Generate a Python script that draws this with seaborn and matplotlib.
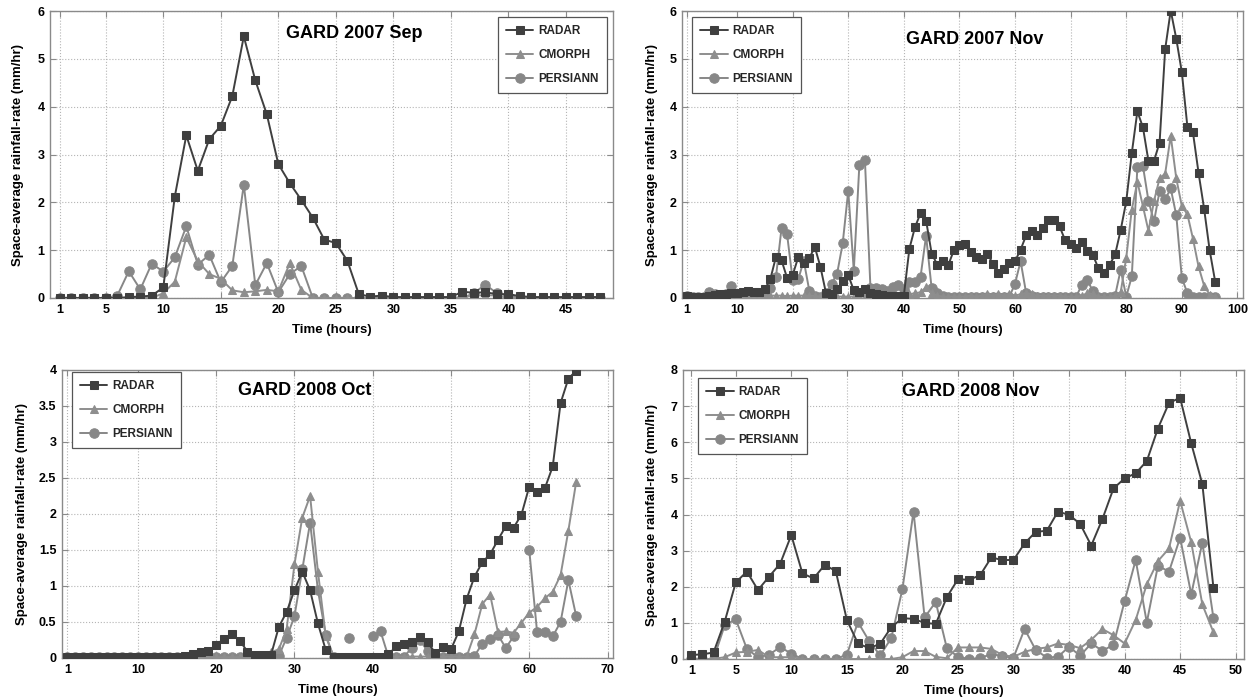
import numpy as np
import pandas as pd
import matplotlib
matplotlib.use("Agg")
import matplotlib.pyplot as plt
from matplotlib.ticker import FuncFormatter
import seaborn as sns

sns.set_theme(style="whitegrid")
plt.rcParams["font.family"] = ["Liberation Sans", "DejaVu Sans"]
plt.rcParams["font.weight"] = "bold"
plt.rcParams["axes.labelweight"] = "bold"

# GARD 2007 Sep (hours 1..48)
hours_sep07 = np.arange(1, 49)
radar_sep07 = [0, 0, 0, 0, 0, 0, 0.02, 0.03, 0.05,
               0.22, 2.12, 3.40, 2.66, 3.32, 3.60, 4.22, 5.47, 4.55, 3.84,
               2.80, 2.40, 2.05, 1.68, 1.22, 1.15, 0.78, 0.08, 0.03, 0.05,
               0.02, 0.02, 0.02, 0.02, 0.02, 0.02, 0.13, 0.11, 0.12, 0.08,
               0.08, 0.04, 0.02, 0.02, 0.02, 0.02, 0.02, 0.02, 0.02]
cmorph_sep07 = [0, 0, 0, 0, 0, 0, 0, 0, 0,
                0.10, 0.34, 1.27, 0.77, 0.50, 0.40, 0.16, 0.12, 0.14, 0.17,
                0.14, 0.73, 0.17, 0, 0, 0, 0, 0, 0, 0,
                0, 0, 0, 0, 0, 0, 0.02, 0.05, 0.06, 0.05,
                0, 0, 0, 0, 0, 0, 0, 0, 0]
persiann_sep07 = [0, 0, 0, 0, 0, 0.05, 0.56, 0.18, 0.72,
                  0.55, 0.85, 1.50, 0.70, 0.90, 0.33, 0.67, 2.37, 0.27, 0.73,
                  0.12, 0.50, 0.67, 0, 0, 0, 0, 0, 0, 0,
                  0, 0, 0, 0, 0, 0, 0, 0.10, 0.28, 0.10,
                  0.05, 0, 0, 0, 0, 0, 0, 0, 0]

# GARD 2007 Nov (hours 1..96)
hours_nov07 = np.arange(1, 97)
radar_nov07 = [0.05, 0.03, 0.03, 0.03, 0.05, 0.07, 0.08, 0.08, 0.10, 0.10,
               0.12, 0.15, 0.13, 0.12, 0.18, 0.40, 0.86, 0.79, 0.42, 0.48,
               0.85, 0.73, 0.84, 1.06, 0.65, 0.10, 0.08, 0.18, 0.36, 0.48,
               0.16, 0.12, 0.18, 0.10, 0.08, 0.06, 0.05, 0.05, 0.05, 0.05,
               1.03, 1.48, 1.77, 1.62, 0.93, 0.70, 0.77, 0.69, 1.00, 1.10,
               1.12, 0.96, 0.86, 0.82, 0.93, 0.72, 0.52, 0.60, 0.73, 0.77,
               1.01, 1.31, 1.40, 1.31, 1.47, 1.63, 1.63, 1.50, 1.21, 1.12,
               1.05, 1.17, 0.98, 0.90, 0.62, 0.52, 0.69, 0.91, 1.42, 2.02,
               3.03, 3.90, 3.57, 2.86, 2.87, 3.25, 5.20, 6.01, 5.42, 4.72,
               3.58, 3.46, 2.62, 1.87, 1.00, 0.34]
cmorph_nov07 = [0.02, 0.02, 0.02, 0.02, 0.03, 0.03, 0.02, 0.02, 0.03, 0.03,
                0.03, 0.03, 0.03, 0.03, 0.04, 0.05, 0.05, 0.05, 0.04, 0.05,
                0.05, 0.05, 0.05, 0.04, 0.03, 0.03, 0.03, 0.03, 0.03, 0.03,
                0.03, 0.03, 0.05, 0.05, 0.05, 0.05, 0.05, 0.05, 0.05, 0.05,
                0.08, 0.10, 0.12, 0.22, 0.10, 0.05, 0.03, 0.03, 0.03, 0.03,
                0.03, 0.05, 0.03, 0.05, 0.08, 0.05, 0.08, 0.05, 0.08, 0.05,
                0.08, 0.10, 0.08, 0.05, 0.05, 0.05, 0.05, 0.05, 0.03, 0.03,
                0.03, 0.05, 0.10, 0.08, 0.03, 0.02, 0.02, 0.05, 0.12, 0.84,
                1.85, 2.43, 1.92, 1.40, 2.03, 2.50, 2.60, 3.39, 2.50, 1.92,
                1.75, 1.24, 0.66, 0.26, 0.07, 0.03]
persiann_nov07 = [0.05, 0.02, 0.02, 0.02, 0.12, 0.08, 0.05, 0.08, 0.26, 0.05,
                  0.08, 0.08, 0.08, 0.08, 0.10, 0.20, 0.44, 1.46, 1.33, 0.38,
                  0.39, 0.78, 0.15, 0.05, 0.02, 0.10, 0.30, 0.51, 1.14, 2.24,
                  0.57, 2.78, 2.88, 0.20, 0.20, 0.18, 0.15, 0.22, 0.28, 0.18,
                  0.34, 0.33, 0.44, 1.30, 0.20, 0.10, 0.05, 0.03, 0.03, 0.03,
                  0.03, 0.03, 0.03, 0.03, 0.03, 0.03, 0.03, 0.03, 0.03, 0.30,
                  0.77, 0.10, 0.05, 0.03, 0.03, 0.03, 0.03, 0.03, 0.03, 0.03,
                  0.03, 0.27, 0.38, 0.14, 0.03, 0.03, 0.03, 0.05, 0.59, 0.03,
                  0.45, 2.73, 2.76, 2.03, 1.60, 2.24, 2.06, 2.29, 1.73, 0.42,
                  0.10, 0.03, 0.03, 0.03, 0.03, 0.03]

# GARD 2008 Oct (hours 1..66), NaN = missing PERSIANN hour
hours_oct08 = np.arange(1, 67)
radar_oct08 = [0.02, 0.02, 0.02, 0.02, 0.02, 0.02, 0.02, 0.02, 0.02, 0.02,
               0.02, 0.02, 0.02, 0.02, 0.02, 0.03, 0.06, 0.08, 0.10, 0.18,
               0.27, 0.33, 0.24, 0.09, 0.04, 0.04, 0.04, 0.43, 0.64, 0.94,
               1.20, 0.94, 0.48, 0.11, 0.02, 0.02, 0.02, 0.02, 0.02, 0.02,
               0.02, 0.05, 0.16, 0.19, 0.22, 0.29, 0.22, 0.07, 0.15, 0.12,
               0.37, 0.82, 1.13, 1.33, 1.44, 1.64, 1.83, 1.81, 1.99, 2.38,
               2.31, 2.36, 2.66, 3.54, 3.88, 3.99]
cmorph_oct08 = [0.01, 0.01, 0.01, 0.01, 0.01, 0.01, 0.01, 0.01, 0.01, 0.01,
                0.01, 0.01, 0.01, 0.01, 0.01, 0.01, 0.01, 0.01, 0.01, 0.01,
                0.01, 0.01, 0.01, 0.01, 0.01, 0.02, 0.08, 0.12, 0.40, 1.30,
                1.95, 2.25, 1.20, 0.30, 0.02, 0.02, 0.02, 0.02, 0.02, 0.02,
                0.02, 0.02, 0.02, 0.02, 0.02, 0.02, 0.02, 0.02, 0.02, 0.02,
                0.02, 0.02, 0.33, 0.75, 0.88, 0.36, 0.37, 0.35, 0.49, 0.63,
                0.71, 0.83, 0.92, 1.15, 1.77, 2.45]
persiann_oct08 = [0.02, 0.02, 0.02, 0.02, 0.02, 0.02, 0.02, 0.02, 0.02, 0.02,
                  0.02, 0.02, 0.02, 0.02, 0.02, 0.02, 0.02, 0.02, 0.02, 0.02,
                  0.02, 0.02, 0.02, 0.02, 0.02, 0.02, 0.02, 0.03, 0.28, 0.58,
                  1.23, 1.88, 0.94, 0.32, 0.02, np.nan, 0.28, np.nan, np.nan, 0.30,
                  0.37, 0.02, 0.02, 0.02, 0.14, 0.25, 0.10, 0.02, 0.02, 0.02,
                  0.02, 0.02, 0.03, 0.20, 0.27, 0.32, 0.14, 0.30, np.nan, 1.50,
                  0.36, 0.36, 0.30, 0.50, 1.08, 0.58]

# GARD 2008 Nov (hours 1..48)
hours_nov08 = np.arange(1, 49)
radar_nov08 = [0.11, 0.13, 0.18, 1.03, 2.12, 2.42, 1.91, 2.28, 2.64, 3.43,
               2.37, 2.23, 2.60, 2.44, 1.08, 0.43, 0.30, 0.42, 0.88, 1.13,
               1.11, 1.00, 0.97, 1.71, 2.21, 2.19, 2.32, 2.81, 2.74, 2.74,
               3.20, 3.52, 3.55, 4.08, 3.99, 3.74, 3.14, 3.87, 4.72, 5.00,
               5.14, 5.48, 6.38, 7.09, 7.23, 5.97, 4.84, 1.97]
cmorph_nov08 = [0, 0, 0, 0.05, 0.18, 0.20, 0.25, 0.05, 0.05, 0.05,
                0, 0, 0, 0, 0, 0, 0, 0, 0, 0.05,
                0.22, 0.22, 0.06, 0.02, 0.32, 0.32, 0.32, 0.28, 0.11, 0.06,
                0.20, 0.28, 0.32, 0.43, 0.39, 0.30, 0.53, 0.83, 0.66, 0.43,
                1.08, 2.07, 2.71, 3.06, 4.38, 3.23, 1.51, 0.74]
persiann_nov08 = [0, 0, 0, 0.93, 1.10, 0.28, 0.05, 0.12, 0.33, 0.15,
                  0, 0, 0, 0, 0.12, 1.02, 0.50, 0.10, 0.58, 1.93,
                  4.08, 1.15, 1.58, 0.30, 0.06, 0, 0.02, 0.14, 0.08, 0.04,
                  0.83, 0.25, 0.04, 0.06, 0.34, 0.09, 0.43, 0.23, 0.39, 1.60,
                  2.74, 1.01, 2.58, 2.42, 3.36, 1.79, 3.22, 1.13]

STYLE = {
    "RADAR": dict(color="#3f3f3f", marker="s", markersize=6.0, zorder=4),
    "CMORPH": dict(color="#8e8e8e", marker="^", markersize=6.4, zorder=3),
    "PERSIANN": dict(color="#878787", marker="o", markersize=6.8, zorder=2),
}

W, H = 1255, 699


def px_rect(left, right, top, bottom):
    return [left / W, 1 - bottom / H, (right - left) / W, (bottom - top) / H]


def draw_panel(fig, rect, hours, radar, cmorph, persiann, title, title_xy,
               xlim, xticks, ylim, yticks, legend_loc, legend_anchor, ylab_x):
    ax = fig.add_axes(rect)
    for name, vals in [("RADAR", radar), ("CMORPH", cmorph), ("PERSIANN", persiann)]:
        df = pd.DataFrame({"hour": hours, "rate": vals})
        # break the line where an hour is missing
        df["seg"] = df["rate"].isna().cumsum()
        df = df.dropna()
        st = STYLE[name]
        sns.lineplot(data=df, x="hour", y="rate", units="seg", estimator=None,
                     ax=ax, label=name, color=st["color"], marker=st["marker"],
                     markersize=st["markersize"], markeredgecolor=st["color"],
                     markerfacecolor=st["color"], linewidth=1.4, zorder=st["zorder"])
    ax.set_xlim(*xlim)
    ax.set_ylim(*ylim)
    ax.set_xticks(xticks)
    ax.set_yticks(yticks)
    ax.yaxis.set_major_formatter(FuncFormatter(lambda v, p: f"{v:g}"))
    ax.grid(True, linestyle=":", color="#b5b5b5", linewidth=0.8)
    for sp in ax.spines.values():
        sp.set_color("#8a8a8a")
        sp.set_linewidth(1.0)
    ax.tick_params(direction="in", length=4, width=0.8, color="#8a8a8a",
                   top=True, right=True, bottom=True, left=True,
                   labelsize=9, labelcolor="black", pad=4)
    ax.set_xlabel("Time (hours)", fontsize=9.5, color="black")
    ax.set_ylabel("Space-average rainfall-rate (mm/hr)", fontsize=9.5, color="black")
    ax.xaxis.set_label_coords(0.5, -0.09)
    ax.yaxis.set_label_coords(ylab_x, 0.5)
    ax.text(title_xy[0], title_xy[1], title, transform=ax.transAxes,
            ha="center", va="center", fontsize=13, fontweight="bold", color="black")

    handles, labels = ax.get_legend_handles_labels()
    seen = {}
    for h, l in zip(handles, labels):
        seen.setdefault(l, h)
    leg = ax.legend(list(seen.values()), list(seen.keys()), loc=legend_loc,
                    bbox_to_anchor=legend_anchor, frameon=True, fancybox=False,
                    framealpha=1, edgecolor="#555555", fontsize=8.5,
                    labelspacing=1.0, handlelength=2.3, handletextpad=0.4,
                    borderpad=0.7, borderaxespad=0)
    leg.get_frame().set_linewidth(0.9)
    for t in leg.get_texts():
        t.set_fontweight("bold")
    return ax


fig = plt.figure(figsize=(W / 100, H / 100), dpi=100)

draw_panel(fig, px_rect(50, 613, 11, 298), hours_sep07,
           radar_sep07, cmorph_sep07, persiann_sep07, "GARD 2007 Sep", (0.54, 0.923),
           (0.15, 49.1), [1, 5, 10, 15, 20, 25, 30, 35, 40, 45], (0, 6), range(0, 7),
           "upper right", (0.989, 0.979), -0.047)

draw_panel(fig, px_rect(682, 1243, 11, 298), hours_nov07,
           radar_nov07, cmorph_nov07, persiann_nov07, "GARD 2007 Nov", (0.522, 0.902),
           (0.1, 101), [1, 10, 20, 30, 40, 50, 60, 70, 80, 90, 100], (0, 6), range(0, 7),
           "upper left", (0.018, 0.979), -0.042)

draw_panel(fig, px_rect(62, 613, 370, 658), hours_oct08,
           radar_oct08, cmorph_oct08, persiann_oct08, "GARD 2008 Oct", (0.44, 0.93),
           (0.3, 70.7), [1, 10, 20, 30, 40, 50, 60, 70], (0, 4), np.arange(0, 4.01, 0.5),
           "upper left", (0.018, 0.993), -0.061)

draw_panel(fig, px_rect(683, 1244, 370, 659), hours_nov08,
           radar_nov08, cmorph_nov08, persiann_nov08, "GARD 2008 Nov", (0.512, 0.927),
           (0.25, 50.75), [1, 5, 10, 15, 20, 25, 30, 35, 40, 45, 50], (0, 8), range(0, 9),
           "upper left", (0.027, 0.972), -0.044)

fig.savefig("out.png", dpi=100)
plt.close(fig)
